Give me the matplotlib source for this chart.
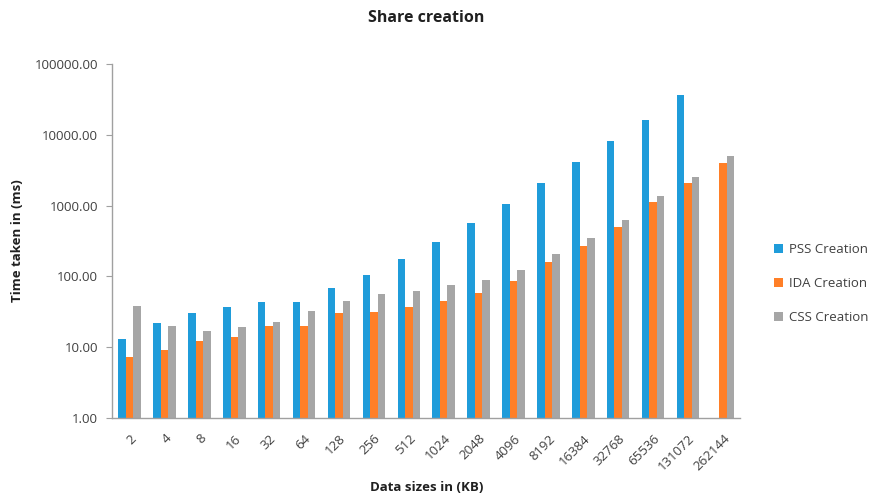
import numpy as np
import matplotlib
matplotlib.use('Agg')
import matplotlib.pyplot as plt
from matplotlib.ticker import FixedLocator, FuncFormatter, NullLocator

plt.rcParams['font.family'] = ['Open Sans', 'DejaVu Sans']

#_____________________________________________________________________________
# data

sizes = ['2', '4', '8', '16', '32', '64', '128', '256', '512', '1024', '2048',
         '4096', '8192', '16384', '32768', '65536', '131072', '262144']
pss = [13.2, 21.7, 30.1, 36.6, 43.1, 43.1, 68.6, 104.7, 174, 303, 568,
       1064, 2065, 4130, 8260, 16000, 36500, np.nan]
ida = [7.3, 9.2, 12.4, 13.8, 19.7, 19.7, 30.1, 31.1, 37, 45, 58.3,
       86, 158, 266, 499, 1112, 2065, 4000]
css = [38.2, 19.7, 17.1, 19.1, 22.5, 32.2, 45, 56.4, 62.2, 75.6, 90,
       124, 205, 345, 626, 1352, 2535, 5015]

series_names = ['PSS Creation', 'IDA Creation', 'CSS Creation']
colors = ['#1F9CDA', '#FF7F27', '#A6A6A6']

#_____________________________________________________________________________
# plot

fig = plt.figure(figsize=(8.69, 4.99), dpi=100)
ax = fig.add_axes([0.129, 0.162, 0.723, 0.710])

x = np.arange(len(sizes))
w = 0.215
for k, vals in enumerate([pss, ida, css]):
    ax.bar(x + (k - 1) * w, vals, width=w, color=colors[k], label=series_names[k])

ax.set_yscale('log')
ax.set_ylim(1, 100000)
ax.set_xlim(-0.5, len(sizes) - 0.5)
ax.yaxis.set_major_locator(FixedLocator([1, 10, 100, 1000, 10000, 100000]))
ax.yaxis.set_minor_locator(NullLocator())
ax.yaxis.set_major_formatter(FuncFormatter(lambda v, p: '%.2f' % v))

ax.set_xticks(x)
ax.set_xticklabels(sizes, rotation=45, ha='right', rotation_mode='anchor', fontsize=9.5, color='#404040')
ax.tick_params(axis='x', length=0, pad=10)
ax.tick_params(axis='y', length=4, color='#A0A0A0', labelsize=9.5, labelcolor='#404040', pad=6)

for s in ['top', 'right']:
    ax.spines[s].set_visible(False)
for s in ['left', 'bottom']:
    ax.spines[s].set_color('#A0A0A0')
    ax.spines[s].set_linewidth(1.0)

ax.set_title('Share creation', fontsize=11.5, fontweight='bold', color='#202020', pad=30)
ax.set_ylabel('Time taken in (ms)', fontsize=9.5, fontweight='bold', color='#202020', labelpad=8)
ax.set_xlabel('Data sizes in (KB)', fontsize=9.5, fontweight='bold', color='#202020')
ax.xaxis.set_label_coords(0.5, -0.178)

ax.legend(loc='center left', bbox_to_anchor=(1.035, 0.38), frameon=False, fontsize=9.5,
          handlelength=0.7, handleheight=0.7, handletextpad=0.4, labelspacing=1.6,
          labelcolor='#404040')

fig.savefig('out.png', dpi=100)
